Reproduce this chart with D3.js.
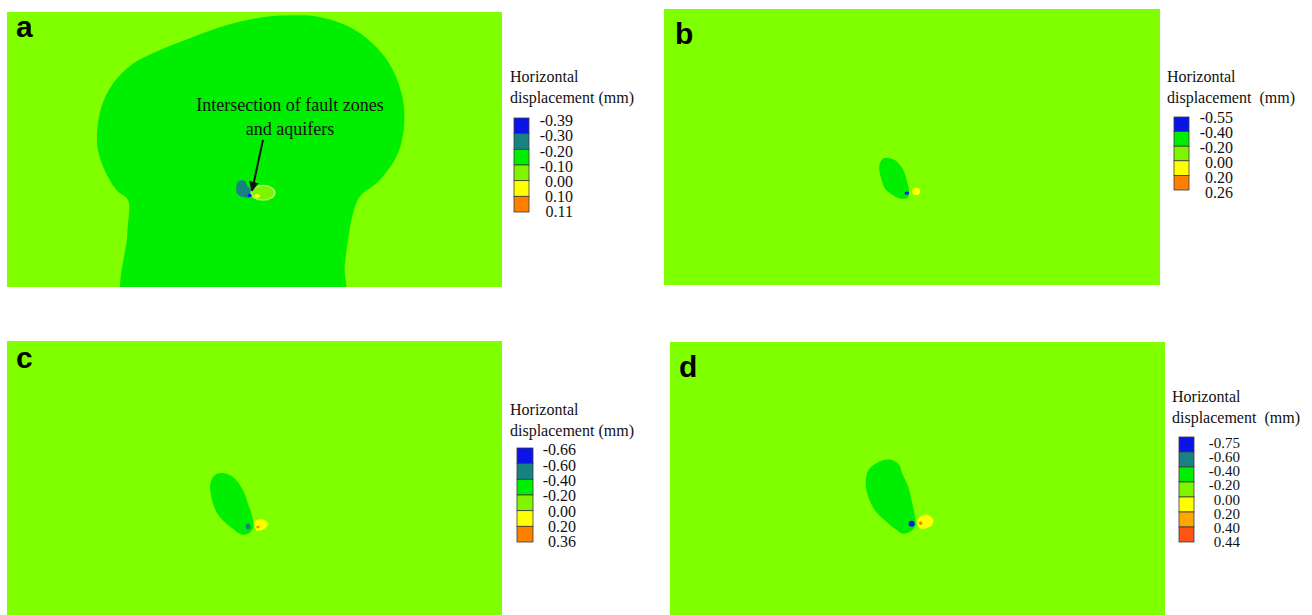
<!DOCTYPE html>
<html>
<head>
<meta charset="utf-8">
<script src="https://cdn.jsdelivr.net/npm/d3@7"></script>
<style>
  html, body { margin: 0; padding: 0; background: #ffffff; }
  svg { display: block; }
</style>
</head>
<body>
<svg id="chart" width="1312" height="615"></svg>
<script>
// ---------------- DATA ----------------
// Model grid extent (grid units) of every contour panel
const modelX = [0, 1485];
const modelY = [0, 826];

const panelIds = ["a", "b", "c", "d"];

// Legend tick labels (mm) and colour classes of each band
const legendLabelsA = ["-0.39", "-0.30", "-0.20", "-0.10", "0.00", "0.10", "0.11"];
const legendBandsA  = ["blue", "teal", "green", "ygreen", "yellow", "orange"];
const legendLabelsB = ["-0.55", "-0.40", "-0.20", "0.00", "0.20", "0.26"];
const legendBandsB  = ["blue", "green", "ygreen", "yellow", "orange"];
const legendLabelsC = ["-0.66", "-0.60", "-0.40", "-0.20", "0.00", "0.20", "0.36"];
const legendBandsC  = ["blue", "teal", "green", "ygreen", "yellow", "orange"];
const legendLabelsD = ["-0.75", "-0.60", "-0.40", "-0.20", "0.00", "0.20", "0.40", "0.44"];
const legendBandsD  = ["blue", "teal", "green", "ygreen", "yellow", "lorange", "redorange"];

const legendTitle = ["Horizontal", "displacement (mm)"];
const legendTitleWide = ["Horizontal", "displacement\u00a0 (mm)"];

// Contour regions (model grid units), drawn in order
const regionsA = [
  { cls: "green", pts: [[360,900],[361,665],[363,565],[328,535],[293,475],[273,415],[270,365],[283,285],[318,215],[378,155],[458,115],[558,75],[658,40],[758,17],[858,10],[938,15],[1028,45],[1108,105],[1158,175],[1188,265],[1190,355],[1168,435],[1118,505],[1058,555],[1038,605],[1023,685],[1013,765],[1005,900]] },
  { cls: "teal", pts: [[693,510],[713,507],[723,525],[738,535],[733,555],[713,557],[690,545]] },
  { cls: "ygreenHalo", ellipse: [768,543,38,24] },
  { cls: "ygreen", ellipse: [768,543,33,20] },
  { cls: "blue", ellipse: [728,551,6,5] },
  { cls: "yellow", ellipse: [750,553,9,6] }
];
const regionsB = [
  { cls: "green", pts: [[662,445],[692,453],[717,483],[727,513],[734,548],[730,565],[712,568],[687,558],[662,538],[652,513],[644,473],[652,451]] },
  { cls: "blue", ellipse: [727,551,7,5] },
  { cls: "yellow", ellipse: [755,546,12,11] }
];
const regionsC = [
  { cls: "green", pts: [[643,395],[678,407],[708,447],[723,487],[736,527],[738,562],[723,577],[703,579],[678,562],[648,537],[626,507],[613,467],[610,427],[623,402]] },
  { cls: "teal", ellipse: [723,555,7,9] },
  { cls: "yellow", pts: [[743,539],[768,534],[783,547],[773,562],[748,567],[743,552]] },
  { cls: "orange", ellipse: [753,557,5,4] }
];
const regionsD = [
  { cls: "green", pts: [[655,352],[685,364],[697,394],[715,434],[725,474],[735,524],[737,549],[725,564],[700,574],[675,559],[645,534],[615,504],[595,464],[587,424],[595,384],[620,362]] },
  { cls: "blue", ellipse: [725,544,9,9] },
  { cls: "yellow", pts: [[745,529],[770,516],[790,532],[785,549],[755,559],[743,546]] },
  { cls: "lorange", ellipse: [752,542,6,6] },
  { cls: "redorange", ellipse: [752,543,3,3] }
];

// Annotation of panel a (model grid units)
const annotationText = ["Intersection of fault zones", "and aquifers"];
const annotationAnchor = [849, 297];      // text centre / first baseline
const annotationArrow = [[768, 384], [735, 537]];

// ---------------- STYLE / LAYOUT ----------------
const palette = {
  bg: "#80ff00",
  green: "#00ee00",
  teal: "#188282",
  blue: "#0a14e8",
  ygreen: "#80f400",
  ygreenHalo: "#a8f860",
  yellow: "#ffff00",
  orange: "#ff8000",
  lorange: "#ffa600",
  redorange: "#ff5414"
};

const panels = {
  a: { x: 7,   y: 12,  w: 495, h: 275, letter: [9, 25],  regions: regionsA,
       legend: { tx: 510, ty: 82, bx: 514, bw: 15, btop: 118, bbot: 212, lx: 573, l0: 121, l1: 212, fs: 16, labels: legendLabelsA, bands: legendBandsA, title: legendTitle } },
  b: { x: 664, y: 9,   w: 496, h: 276, letter: [11, 35], regions: regionsB,
       legend: { tx: 1167, ty: 82, bx: 1174, bw: 15, btop: 117, bbot: 190, lx: 1233, l0: 118, l1: 193, fs: 16, labels: legendLabelsB, bands: legendBandsB, title: legendTitleWide } },
  c: { x: 7,   y: 341, w: 495, h: 276, letter: [9, 27],  regions: regionsC,
       legend: { tx: 510, ty: 415, bx: 517, bw: 16, btop: 448, bbot: 542, lx: 576, l0: 450, l1: 542, fs: 16, labels: legendLabelsC, bands: legendBandsC, title: legendTitle } },
  d: { x: 670, y: 342, w: 495, h: 276, letter: [9, 35],  regions: regionsD,
       legend: { tx: 1172, ty: 402, bx: 1179, bw: 15, btop: 437, bbot: 542, lx: 1240, l0: 443, l1: 542, fs: 15, labels: legendLabelsD, bands: legendBandsD, title: legendTitleWide } }
};

const serif = "'Liberation Serif', 'Times New Roman', serif";
const sans = "'Liberation Sans', Arial, sans-serif";

// ---------------- DRAW ----------------
const svg = d3.select("#chart");
const defs = svg.append("defs");
defs.append("marker")
  .attr("id", "arrowHead")
  .attr("viewBox", "0 0 10 10")
  .attr("refX", 9).attr("refY", 5)
  .attr("markerWidth", 5).attr("markerHeight", 5)
  .attr("orient", "auto")
  .append("path").attr("d", "M0,0 L10,5 L0,10 z").attr("fill", "#111");

panelIds.forEach(id => {
  const p = panels[id];
  const xs = d3.scaleLinear().domain(modelX).range([p.x, p.x + p.w]);
  const ys = d3.scaleLinear().domain(modelY).range([p.y, p.y + p.h]);

  defs.append("clipPath").attr("id", "clip-" + id)
    .append("rect").attr("x", p.x).attr("y", p.y).attr("width", p.w).attr("height", p.h);

  const g = svg.append("g").attr("clip-path", `url(#clip-${id})`);
  g.append("rect").attr("x", p.x).attr("y", p.y).attr("width", p.w).attr("height", p.h)
    .attr("fill", palette.bg);

  const line = d3.line().x(d => xs(d[0])).y(d => ys(d[1]))
    .curve(d3.curveCatmullRomClosed.alpha(0.5));

  p.regions.forEach(r => {
    if (r.pts) {
      g.append("path").attr("d", line(r.pts)).attr("fill", palette[r.cls]);
    } else {
      const [cx, cy, rx, ry] = r.ellipse;
      g.append("ellipse")
        .attr("cx", xs(cx)).attr("cy", ys(cy))
        .attr("rx", xs(cx + rx) - xs(cx)).attr("ry", ys(cy + ry) - ys(cy))
        .attr("fill", palette[r.cls]);
    }
  });

  // panel letter
  svg.append("text")
    .attr("x", p.x + p.letter[0]).attr("y", p.y + p.letter[1])
    .attr("font-family", sans).attr("font-weight", "bold").attr("font-size", 30)
    .attr("fill", "#000").text(id);

  // legend
  const L = p.legend;
  const lg = svg.append("g");
  L.title.forEach((t, i) => {
    lg.append("text").attr("x", L.tx).attr("y", L.ty + i * 20.5)
      .attr("font-family", serif).attr("font-size", 16).attr("fill", "#111")
      .text(t);
  });
  const by = d3.scaleBand().domain(d3.range(L.bands.length)).range([L.btop, L.bbot]).padding(0);
  lg.selectAll("rect.band").data(L.bands).join("rect")
    .attr("class", "band")
    .attr("x", L.bx).attr("y", (d, i) => by(i))
    .attr("width", L.bw).attr("height", by.bandwidth())
    .attr("fill", d => palette[d])
    .attr("stroke", "#3a3a3a").attr("stroke-width", 0.8);
  const ly = d3.scalePoint().domain(d3.range(L.labels.length)).range([L.l0, L.l1]);
  lg.selectAll("text.lab").data(L.labels).join("text")
    .attr("class", "lab")
    .attr("x", L.lx).attr("y", (d, i) => ly(i))
    .attr("dy", "0.33em")
    .attr("text-anchor", "end")
    .attr("font-family", serif).attr("font-size", L.fs).attr("fill", "#111")
    .text(d => d);

  // annotation (panel a)
  if (id === "a") {
    const ag = svg.append("g");
    annotationText.forEach((t, i) => {
      ag.append("text")
        .attr("x", xs(annotationAnchor[0])).attr("y", ys(annotationAnchor[1]) + i * 24)
        .attr("text-anchor", "middle")
        .attr("font-family", serif).attr("font-size", 18).attr("fill", "#111")
        .text(t);
    });
    ag.append("line")
      .attr("x1", xs(annotationArrow[0][0])).attr("y1", ys(annotationArrow[0][1]))
      .attr("x2", xs(annotationArrow[1][0])).attr("y2", ys(annotationArrow[1][1]))
      .attr("stroke", "#111").attr("stroke-width", 2)
      .attr("marker-end", "url(#arrowHead)");
  }
});
</script>
</body>
</html>
